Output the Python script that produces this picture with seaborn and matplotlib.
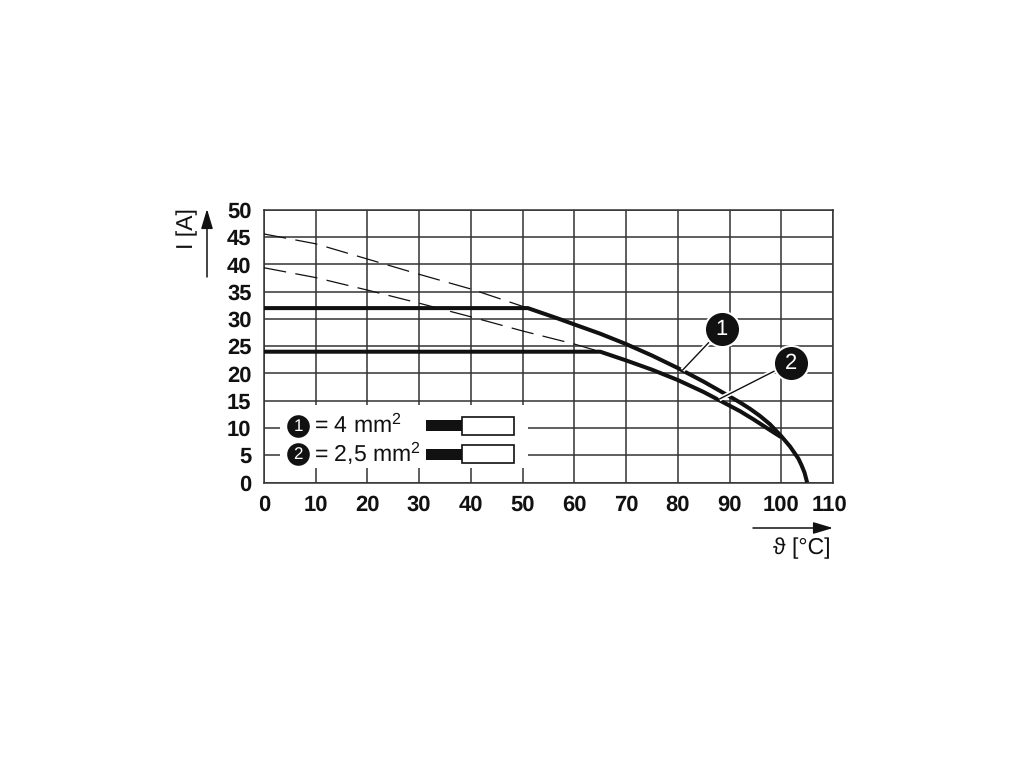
import matplotlib
matplotlib.use("Agg")
import matplotlib.pyplot as plt
import matplotlib.patheffects as pe
from matplotlib.patches import Rectangle
from matplotlib.transforms import ScaledTranslation
import pandas as pd
import seaborn as sns

# derating curves
temp_1 = [0, 51, 56.8, 60, 65, 70, 75, 80, 85, 90, 92, 94, 95.9, 97.8, 100, 101.7, 103.3, 103.9, 104.5, 105]
curr_1 = [32, 32, 30.1, 29, 27.3, 25.4, 23.3, 21, 18.5, 15.8, 14.7, 13.5, 12.2, 10.7, 8.5, 6.6, 4.4, 3.2, 1.8, 0]
temp_2 = [0, 65, 70, 75, 80, 85, 88, 92, 94.6, 97.2, 99, 100]
curr_2 = [24, 24, 22.4, 20.7, 18.8, 16.6, 15.1, 13.1, 11.6, 10, 8.9, 8.3]
dash_temp_1 = [0, 10, 20, 30, 40, 51]
dash_curr_1 = [45.6, 43.8, 41, 38.2, 35.5, 32]
dash_temp_2 = [0, 10, 20, 30, 40, 50, 60, 65]
dash_curr_2 = [39.4, 37.6, 35.3, 32.9, 30.4, 27.8, 25.4, 24]

x_ticks = list(range(0, 111, 10))
y_ticks = list(range(0, 51, 5))
legend_labels = ["= 4 mm$^{2}$", "= 2,5 mm$^{2}$"]

solid = pd.concat([
    pd.DataFrame({"temp": temp_1, "curr": curr_1, "wire": "1"}),
    pd.DataFrame({"temp": temp_2, "curr": curr_2, "wire": "2"}),
])
dashed = pd.concat([
    pd.DataFrame({"temp": dash_temp_1, "curr": dash_curr_1, "wire": "1"}),
    pd.DataFrame({"temp": dash_temp_2, "curr": dash_curr_2, "wire": "2"}),
])

sns.set_theme(style="white")
plt.rcParams["font.family"] = ["Liberation Sans", "DejaVu Sans"]
plt.rcParams["mathtext.fontset"] = "custom"
plt.rcParams["mathtext.rm"] = "Liberation Sans"
plt.rcParams["text.hinting"] = "no_hinting"
plt.rcParams["text.hinting_factor"] = 1

fig = plt.figure(figsize=(10.2, 7.65), dpi=100, facecolor="white")
# axes box in pixels: x 264-833, y 210-482
ax = fig.add_axes([264 / 1020, 1 - 482.5 / 765, 569 / 1020, 272.5 / 765])

dark = "#111111"
sns.lineplot(data=dashed, x="temp", y="curr", units="wire", estimator=None, color=dark,
             linewidth=0.9, ax=ax, sort=False, zorder=3)
for line in ax.get_lines():
    line.set_dashes((18, 7.5))
sns.lineplot(data=solid, x="temp", y="curr", units="wire", estimator=None, color=dark,
             linewidth=2.9, ax=ax, sort=False, zorder=4, solid_capstyle="butt", solid_joinstyle="round")

ax.set_xlim(0, 110)
ax.set_ylim(0, 50)
ax.set_xticks(x_ticks)
ax.set_yticks(y_ticks)
ax.set_xticklabels(x_ticks, fontsize=16, fontweight="bold", color=dark)
ax.set_yticklabels(y_ticks, fontsize=16, fontweight="bold", color=dark)
ax.tick_params(axis="x", length=0, pad=9)
ax.tick_params(axis="y", length=0, pad=9)
ax.set_xlabel("")
ax.set_ylabel("")
ax.grid(True, color="#333333", linewidth=1.1)
ax.set_axisbelow(True)
for s in ax.spines.values():
    s.set_color("#333333")
    s.set_linewidth(1.1)

# 110 sits a little left of its grid line in the original
last = ax.get_xticklabels()[-1]
last.set_transform(last.get_transform() + ScaledTranslation(-4 / 100, 0, fig.dpi_scale_trans))

# legend panel
ax.add_patch(Rectangle((3, 2.7), 48, 11.5, facecolor="white", edgecolor="none", zorder=5))
for i, (lab, y) in enumerate(zip(legend_labels, [10.4, 5.2])):
    ax.scatter([6.6], [y], s=265, color=dark, zorder=6, linewidths=0)
    ax.text(6.6, y - 0.15, str(i + 1), color="white", fontsize=12, ha="center", va="center", zorder=7)
    ax.text(9.7, y - 1.35, lab, color=dark, fontsize=16.5, ha="left", va="baseline", zorder=7)
    ax.add_patch(Rectangle((31.3, y - 1), 7, 2, facecolor=dark, edgecolor="none", zorder=6))
    ax.add_patch(Rectangle((38.3, y - 1.6), 10, 3.2, facecolor="white", edgecolor=dark, linewidth=1.2, zorder=7))

# callouts
halo = [pe.withStroke(linewidth=3.5, foreground="white")]
for num, tip, centre in [("1", (80.9, 20.6), (88.5, 28.2)), ("2", (88, 15.3), (101.9, 22))]:
    ax.plot([tip[0], centre[0]], [tip[1], centre[1]], color=dark, linewidth=1.0, zorder=8,
            path_effects=halo, solid_capstyle="butt")
    ax.scatter([centre[0]], [centre[1]], s=640, color=dark, edgecolors="white", linewidths=1.5, zorder=9, clip_on=False)
    ax.text(centre[0], centre[1] - 0.1, num, color="white", fontsize=15.5, ha="center", va="center", zorder=10)

# axis arrows and labels, outside the box
def arrow(x0, y0, x1, y1):
    ax.annotate("", xy=(x1 / 1020, 1 - y1 / 765), xytext=(x0 / 1020, 1 - y0 / 765),
                xycoords="figure fraction", textcoords="figure fraction",
                arrowprops=dict(arrowstyle="-|>,head_length=1.0,head_width=0.3", color=dark,
                                linewidth=1.1, shrinkA=0, shrinkB=0, mutation_scale=12))

arrow(207, 277, 207, 209)
arrow(753, 528, 833, 528)
fig.text(187 / 1020, 1 - 229 / 765, "I [A]", rotation=90, fontsize=16.5, color=dark, ha="center", va="center")
fig.text(802 / 1020, 1 - 548 / 765, "\u03d1 [°C]", fontsize=16.5, color=dark, ha="center", va="center")

fig.savefig("out.png", dpi=100, facecolor="white")
